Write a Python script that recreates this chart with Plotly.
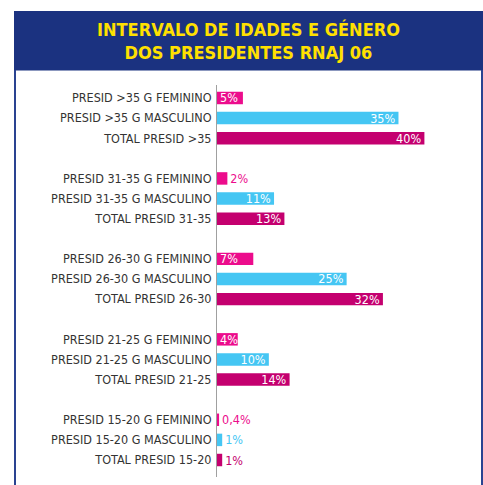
import plotly.graph_objects as go

groups = [">35", "31-35", "26-30", "21-25", "15-20"]
feminino = [5, 2, 7, 4, 0.4]
masculino = [35, 11, 25, 10, 1]
total = [40, 13, 32, 14, 1]

title_text = "INTERVALO DE IDADES E GÉNERO<br>DOS PRESIDENTES RNAJ 06"

COL_F = "#EC0C8C"
COL_M = "#45C6F3"
COL_T = "#C4006F"
FONT = "DejaVu Sans Condensed, Liberation Sans Narrow, Roboto, sans-serif"

# slot positions: 3 bars per group + 1 blank slot between groups
pos_f, pos_m, pos_t = [], [], []
tickvals, ticktext = [], []
for i, g in enumerate(groups):
    base = i * 4
    pos_f.append(base)
    pos_m.append(base + 1)
    pos_t.append(base + 2)
    tickvals += [base, base + 1, base + 2]
    ticktext += [f"PRESID {g} G FEMININO", f"PRESID {g} G MASCULINO", f"TOTAL PRESID {g}"]


def fmt(v):
    return f"{v:g}%".replace(".", ",")


def positions(vals, thr=4):
    return ["inside" if v >= thr else "outside" for v in vals]


fig = go.Figure()
for vals, pos, col, anchor in [
    (feminino, pos_f, COL_F, "start"),
    (masculino, pos_m, COL_M, "end"),
    (total, pos_t, COL_T, "end"),
]:
    fig.add_trace(go.Bar(
        x=vals, y=pos, orientation="h", width=0.62,
        marker=dict(color=col, line=dict(width=0)),
        text=[fmt(v) for v in vals], textposition=positions(vals),
        insidetextanchor=anchor, constraintext="none",
        insidetextfont=dict(color="white", size=12.5, family=FONT),
        outsidetextfont=dict(color=col, size=12.5, family=FONT),
        cliponaxis=False, hoverinfo="skip",
    ))

W, H = 483, 485
L, R, T, B = 217, 470, 85, 477
pw, ph = R - L, B - T


def px(x):
    return (x - L) / pw


def py(y):
    return (B - y) / ph


shapes = [
    dict(type="rect", xref="paper", yref="paper", x0=px(14), x1=px(484), y0=py(70.5), y1=py(11),
         fillcolor="#1B3280", line=dict(width=0), layer="below"),
    dict(type="line", xref="paper", yref="paper", x0=px(15), x1=px(15), y0=py(70), y1=py(490),
         line=dict(color="#2A4391", width=2)),
    dict(type="line", xref="paper", yref="paper", x0=px(482), x1=px(482), y0=py(70), y1=py(490),
         line=dict(color="#2A4391", width=2)),
]

fig.update_layout(
    width=W, height=H,
    margin=dict(l=L, r=W - R, t=T, b=H - B, pad=0, autoexpand=False),
    paper_bgcolor="white", plot_bgcolor="white",
    showlegend=False, barmode="overlay",
    shapes=shapes,
    annotations=[dict(text=title_text, xref="paper", yref="paper", x=px(248.5), y=py(41),
                      xanchor="center", yanchor="middle", showarrow=False,
                      font=dict(family=FONT, size=18, color="#FFE000", weight="bold"))],
    xaxis=dict(range=[0, pw / 5.185], visible=False, automargin=False),
    yaxis=dict(range=[18 + 0.845, -0.646], tickvals=tickvals, ticktext=ticktext,
               showgrid=False, zeroline=False, showline=True, linecolor="#A0A0A0", linewidth=1,
               ticks="", ticklabelstandoff=2, automargin=False,
               tickfont=dict(family=FONT, size=12.5, color="#333333")),
)

fig.write_html("out.html", config={"displayModeBar": False, "staticPlot": True},
               post_script="document.body.style.margin='0px';document.body.style.overflow='hidden';")
